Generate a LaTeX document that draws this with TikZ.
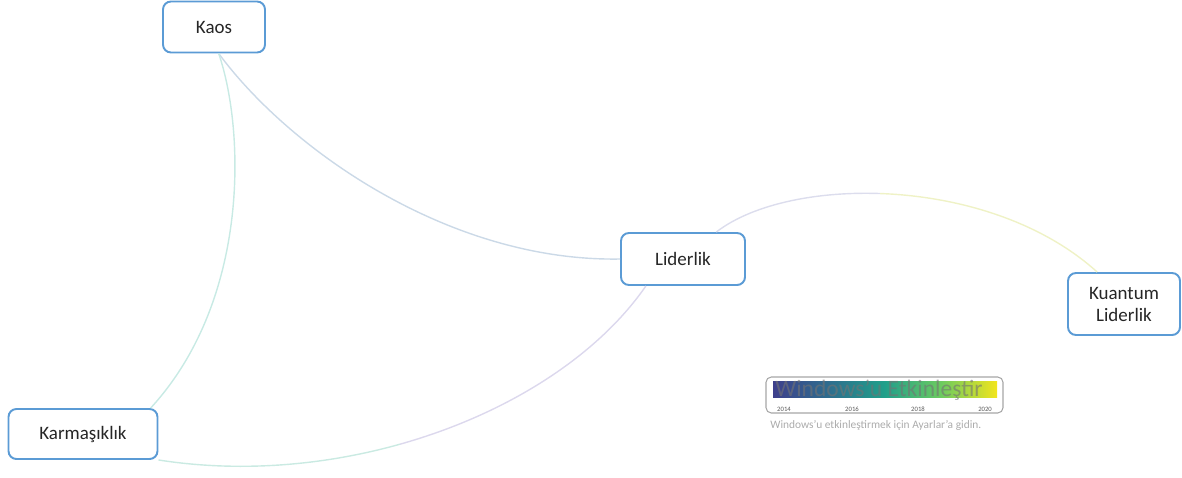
\documentclass[tikz,border=0pt]{standalone}
\usepackage{fontspec}
\setmainfont{Carlito}
\usetikzlibrary{positioning}
\definecolor{boxblue}{HTML}{5B9BD5}
\definecolor{boxtext}{HTML}{262626}
\definecolor{vA}{HTML}{3E3F8C}
\definecolor{vB}{HTML}{2E6E8E}
\definecolor{vC}{HTML}{21A08A}
\definecolor{vD}{HTML}{6CCB5F}
\definecolor{vE}{HTML}{F2E51D}
\pgfdeclarehorizontalshading{viridis}{100bp}{color(0bp)=(vA); color(25bp)=(vA); color(37.5bp)=(vB); color(50bp)=(vC); color(62.5bp)=(vD); color(75bp)=(vE); color(100bp)=(vE)}
\tikzset{
	term/.style={
		draw=boxblue,
		line width=1.1pt,
		rounded corners=4.5pt,
		fill=white,
		inner sep=0pt,
		align=center,
		text=boxtext,
		font=\fontsize{10.8}{12.5}\selectfont
	},
	link/.style={
		line width=0.8pt
	},
	yearlabel/.style={
		font=\fontsize{3.8}{4}\selectfont,
		text=black!65
	}
}

\begin{document}
\begin{tikzpicture}[x=0.02cm, y=-0.02cm]
		\useasboundingbox (0,0) rectangle (1182,477);
		
		% keyword boxes
		\node[term, minimum width=2.04cm, minimum height=1.02cm] (kaos) at (214,27) {Kaos};
		\node[term, minimum width=2.48cm, minimum height=1.04cm] (lider) at (683,259) {Liderlik};
		\node[term, minimum width=2.24cm, minimum height=1.24cm] (kuantum) at (1124,304) {Kuantum\\Liderlik};
		\node[term, minimum width=2.98cm, minimum height=1.00cm] (karma) at (83,434) {Karmaşıklık};
		
		% co-occurrence links
		\draw[link, color={rgb,255:red,203;green,217;blue,231}] (kaos.-80) .. controls (290,150) and (450,262) .. (lider.west);
		\draw[link, color={rgb,255:red,200;green,234;blue,228}] (kaos.-80) .. controls (245,130) and (250,300) .. (karma.21);
		
		% liderlik -> kuantum liderlik
		\begin{scope}
		\clip (690,150) rectangle (880,240);
		\draw[link, color={rgb,255:red,220;green,221;blue,237}] (lider.39) .. controls (790,175) and (990,175) .. (kuantum.130);
		\end{scope}
		\begin{scope}
		\clip (880,150) rectangle (1110,280);
		\draw[link, color={rgb,255:red,239;green,242;blue,198}] (lider.39) .. controls (790,175) and (990,175) .. (kuantum.130);
		\end{scope}
		
		% liderlik -> karmasiklik
		\begin{scope}
		\clip (400,280) rectangle (660,477);
		\draw[link, color={rgb,255:red,220;green,216;blue,237}] (lider.-144) .. controls (560,410) and (350,490) .. (karma.south east);
		\end{scope}
		\begin{scope}
		\clip (150,380) rectangle (400,477);
		\draw[link, color={rgb,255:red,202;green,234;blue,226}] (lider.-144) .. controls (560,410) and (350,490) .. (karma.south east);
		\end{scope}
		
		% year legend
		\draw[black!35, rounded corners=3pt, line width=0.6pt] (766,377) rectangle (1003,413);
		\shade[shading=viridis] (773,381) rectangle (997,397);
		\node[yearlabel] (y2014) at (784,409) {2014};
		\node[yearlabel] (y2016) at (852,409) {2016};
		\node[yearlabel] (y2018) at (918,409) {2018};
		\node[yearlabel] (y2020) at (985,409) {2020};
		
		% screen watermark
		\begin{scope}
		\clip (755,370) rectangle (1012,430);
		\begin{scope}[every node/.style={text=black!55, opacity=0.6, anchor=base west, inner sep=0pt}]
		\node[font=\fontsize{13.4}{14}\selectfont] (mark1) at (775,396) {Windows'u Etkinleştir};
		\node[font=\fontsize{6.5}{7}\selectfont] (mark3) at (770,428) {Windows'u etkinleştirmek için Ayarlar'a gidin.};
		\end{scope}
		\end{scope}
\end{tikzpicture}
\end{document}
